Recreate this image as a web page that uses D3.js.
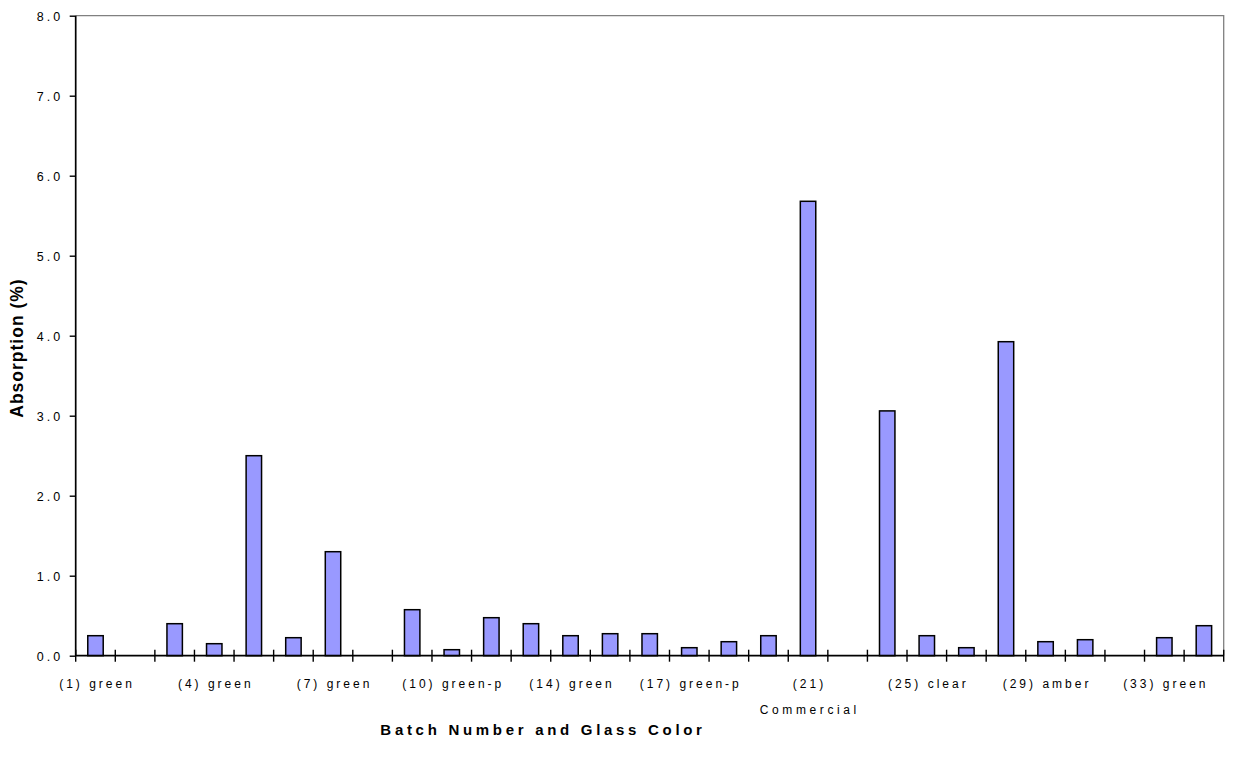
<!DOCTYPE html>
<html>
<head>
<meta charset="utf-8">
<script src="https://cdn.jsdelivr.net/npm/d3@7"></script>
<style>
  html, body { margin: 0; padding: 0; background: #fff; }
  svg { display: block; }
  text { font-family: "Liberation Sans", Arial, sans-serif; fill: #000; }
</style>
</head>
<body>
<svg id="chart" width="1233" height="767"></svg>
<script>
// Absorption (%) for each batch slot, in plotting order (null = no measurement)
const absorption = [0.25, null, 0.40, 0.15, 2.50, 0.225, 1.30, null, 0.575, 0.075,
                    0.475, 0.40, 0.25, 0.275, 0.275, 0.10, 0.175, 0.25, 5.68, null,
                    3.06, 0.25, 0.10, 3.925, 0.175, 0.20, null, 0.225, 0.375];

// Category labels; only every third slot carries a printed label
const categoryLabels = ["(1) green", "", "", "(4) green", "", "", "(7) green", "", "",
                        "(10) green-p", "", "", "(14) green", "", "", "(17) green-p", "", "",
                        "(21)\nCommercial", "", "", "(25) clear", "", "", "(29) amber", "", "",
                        "(33) green", ""];

const yTicks = [0, 1, 2, 3, 4, 5, 6, 7, 8];
const yTitle = "Absorption (%)";
const xTitle = "Batch Number and Glass Color";

const svg = d3.select("#chart");
const plotL = 75.7, plotR = 1223.7, plotT = 15.7, plotB = 655.7;

const slots = absorption.map((d, i) => i);
const x = d3.scaleBand().domain(slots).range([plotL, plotR]).padding(0);
const y = d3.scaleLinear().domain([0, 8]).range([plotB, plotT]);

const barW = x.bandwidth() * 0.39;

// top and right frame lines
svg.append("path")
  .attr("d", `M${plotL},${plotT}H${plotR}V${plotB}`)
  .attr("fill", "none").attr("stroke", "#808080").attr("stroke-width", 1.3);

// bars
svg.append("g").selectAll("rect")
  .data(absorption.map((v, i) => ({ i, v })).filter(d => d.v !== null))
  .join("rect")
  .attr("x", d => x(d.i) + (x.bandwidth() - barW) / 2)
  .attr("y", d => y(d.v))
  .attr("width", barW)
  .attr("height", d => y(0) - y(d.v))
  .attr("fill", "#9999FF")
  .attr("stroke", "#000")
  .attr("stroke-width", 1.5);

// y axis
const yAxis = d3.axisLeft(y).tickValues(yTicks).tickSize(6).tickFormat(d3.format(".1f"));
const gy = svg.append("g").attr("transform", `translate(${plotL},0)`).call(yAxis);
gy.select(".domain").attr("stroke", "#000").attr("stroke-width", 1.7).attr("d", `M0,${plotT}V${plotB}`);
gy.selectAll(".tick line").attr("stroke", "#000").attr("stroke-width", 1.4);
gy.selectAll(".tick text")
  .attr("x", -12.5).attr("dy", "0.35em")
  .style("font-family", "'Liberation Sans', Arial, sans-serif")
  .style("font-size", "12.5px").style("letter-spacing", "3px").attr("fill", "#000");

// x axis line
svg.append("line")
  .attr("x1", plotL).attr("x2", plotR).attr("y1", plotB).attr("y2", plotB)
  .attr("stroke", "#000").attr("stroke-width", 1.7);

// tick marks on category boundaries
const boundaries = slots.map(i => x(i)).concat([plotR]);
svg.append("g").selectAll("line")
  .data(boundaries)
  .join("line")
  .attr("x1", d => d).attr("x2", d => d)
  .attr("y1", plotB - 6).attr("y2", plotB + 6)
  .attr("stroke", "#000").attr("stroke-width", 1.4);

// category labels
const lbl = svg.append("g").selectAll("text")
  .data(categoryLabels.map((t, i) => ({ t, i })).filter(d => d.t))
  .join("text")
  .attr("text-anchor", "middle")
  .style("font-size", "12px");
lbl.each(function(d) {
  const lines = d.t.split("\n");
  const cx = x(d.i) + x.bandwidth() / 2;
  lines.forEach((ln, k) => {
    const sp = k === 0 ? 3 : 3.6;
    d3.select(this).append("tspan")
      .attr("x", cx + sp / 2)
      .attr("y", 688 + k * 26)
      .style("letter-spacing", sp + "px")
      .text(ln);
  });
});

// axis titles
svg.append("text")
  .attr("x", 543).attr("y", 735)
  .attr("text-anchor", "middle")
  .style("font-size", "15px").style("font-weight", "bold").style("letter-spacing", "3.7px")
  .text(xTitle);

svg.append("text")
  .attr("transform", "translate(23,348) rotate(-90)")
  .attr("text-anchor", "middle")
  .style("font-size", "17.5px").style("font-weight", "bold").style("letter-spacing", "1px")
  .text(yTitle);
</script>
</body>
</html>
